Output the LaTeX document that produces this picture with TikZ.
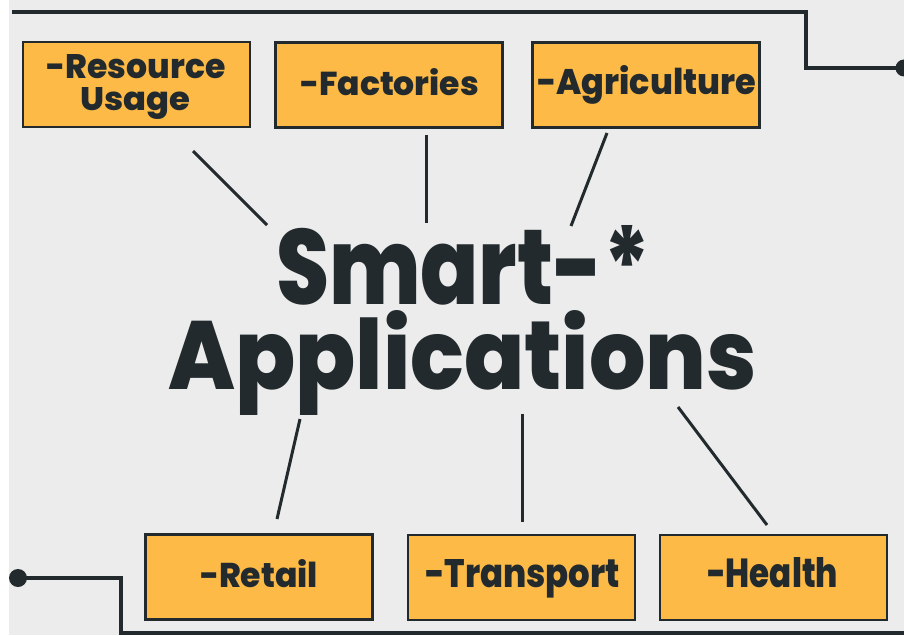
\documentclass[tikz,border=0pt]{standalone}
\usepackage{fontspec}
\setmainfont{Poppins}[BoldFont={Poppins ExtraBold}]
\usepackage{graphicx}
\definecolor{ink}{HTML}{222A2D}
\definecolor{boxfill}{HTML}{FDBA47}
\definecolor{bgc}{HTML}{ECECEC}
\tikzset{
  tagbox/.style={draw=ink, line width=2.5pt, fill=boxfill, minimum width=227pt, minimum height=85pt, inner sep=0pt},
  tagtext/.style={anchor=base, inner sep=0pt, text=ink, font=\bfseries\fontsize{30}{30}\selectfont},
  titletext/.style={anchor=base, inner sep=0pt, text=ink, text depth=0pt, font=\bfseries\fontsize{100}{100}\selectfont},
  spoke/.style={draw=ink, line width=3pt},
  frameline/.style={draw=ink, line width=3.5pt, line join=miter},
  dotnode/.style={circle, fill=ink, inner sep=0pt, minimum size=18pt}
}
\begin{document}
\begin{tikzpicture}[x=1pt,y=-1pt]
\useasboundingbox (0,0) rectangle (904,636);
\fill[white] (0,0) rectangle (904,636);
\fill[bgc] (9,0) rectangle (904,635);

% frame lines
\coordinate (ftl) at (12,12);
\coordinate (ftr) at (806,12);
\coordinate (fmr) at (806,68);
\node[dotnode, minimum size=17pt] (dotR) at (904,68) {};
\draw[frameline] (ftl) -- (ftr) -- (fmr) -- (dotR.center);
\node[dotnode] (dotL) at (18,578) {};
\coordinate (fbl) at (121,578);
\coordinate (fbm) at (121,633);
\coordinate (fbr) at (906,633);
\draw[frameline] (dotL.center) -- (fbl) -- (fbm) -- (fbr);

% boxes
\node[tagbox] (res) at (136.5,84.5) {};
\node[tagbox] (fac) at (389,85) {};
\node[tagbox] (agr) at (646,85) {};
\node[tagbox] (ret) at (259,577) {};
\node[tagbox] (tra) at (521.5,577.5) {};
\node[tagbox] (hea) at (773.5,577.5) {};

% box labels
\node[tagtext] (resT1) at (136,79) {\resizebox{179pt}{24pt}{-Resource}};
\node[tagtext] (resT2) at (135,111) {\resizebox{110pt}{23pt}{Usage}};
\node[tagtext] (facT) at (389.5,96) {\resizebox{179pt}{27pt}{-Factories}};
\node[tagtext] (agrT) at (646.5,95) {\resizebox{219pt}{29pt}{-Agriculture}};
\node[tagtext] (retT) at (259,587) {\resizebox{118pt}{28pt}{-Retail}};
\node[tagtext] (traT) at (522.5,587) {\resizebox{195pt}{28pt}{-Transport}};
\node[tagtext] (heaT) at (772.5,587) {\resizebox{131pt}{30pt}{-Health}};

% title
\node[titletext] (title1) at (463,304) {\resizebox{374pt}{79pt}{Smart-*}};
\node[titletext] (title2) at (462.5,389) {\resizebox{589pt}{79pt}{Applications}};

% spokes
\coordinate (s1a) at (193,151); \coordinate (s1b) at (267,225);
\coordinate (s2a) at (426,135); \coordinate (s2b) at (426,223);
\coordinate (s3a) at (607,133); \coordinate (s3b) at (571,226);
\coordinate (s4a) at (300,419); \coordinate (s4b) at (277,519);
\coordinate (s5a) at (522,414); \coordinate (s5b) at (522,522);
\coordinate (s6a) at (678,407); \coordinate (s6b) at (767,525);
\draw[spoke] (s1a) -- (s1b);
\draw[spoke] (s2a) -- (s2b);
\draw[spoke] (s3a) -- (s3b);
\draw[spoke] (s4a) -- (s4b);
\draw[spoke] (s5a) -- (s5b);
\draw[spoke] (s6a) -- (s6b);
\end{tikzpicture}
\end{document}
